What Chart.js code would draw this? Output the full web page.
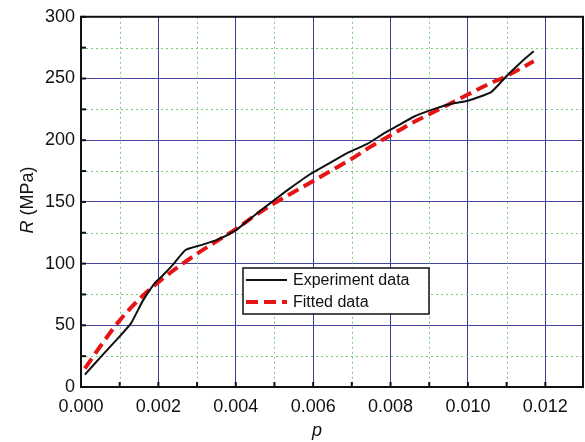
<!DOCTYPE html>
<html>
<head>
<meta charset="utf-8">
<script src="https://cdn.jsdelivr.net/npm/chart.js@4"></script>
<style>
  body { margin: 0; background: #fff; }
  canvas { display: block; }
</style>
</head>
<body>
<canvas id="chart" width="585" height="442"></canvas>
<script>
// strain p vs stress R (MPa)
const expP = [0.0001, 0.0005, 0.0010, 0.0013, 0.0016, 0.0019, 0.0021, 0.0024, 0.0027, 0.0031, 0.0035, 0.0040, 0.0042, 0.0046, 0.0051, 0.0054, 0.0059, 0.0064, 0.0069, 0.0074, 0.0078, 0.0082, 0.0086, 0.0090, 0.0095, 0.0100, 0.0106, 0.0110, 0.0114, 0.0117]
const expR = [10, 24, 41, 52, 70, 84, 90, 100, 111, 115, 119, 127, 132, 142, 154, 161, 172, 181, 190, 197, 205, 212, 219, 224, 229, 232, 239, 252, 264, 272]

const fitP = [0.0001, 0.0005, 0.0010, 0.0015, 0.0020, 0.0025, 0.0030, 0.0035, 0.0040, 0.0045, 0.0050, 0.0055, 0.0060, 0.0065, 0.0070, 0.0075, 0.0080, 0.0085, 0.0090, 0.0095, 0.0100, 0.0105, 0.0110, 0.0117]
const fitR = [15, 33, 54, 71, 85, 97, 108, 118, 128, 139, 149, 158, 167, 176, 185, 195, 204, 213, 221, 229, 237, 245, 252, 264]

const xTicks = [0, 0.002, 0.004, 0.006, 0.008, 0.010, 0.012]
const yTicks = [0, 50, 100, 150, 200, 250, 300]
const xMinor = [0.001, 0.003, 0.005, 0.007, 0.009, 0.011]
const yMinor = [25, 75, 125, 175, 225, 275]

const labelFont = { family: 'Liberation Sans, Arial, sans-serif', size: 18 }

const frame = {
  id: 'frame',
  beforeDatasetsDraw( chart ) {
    const { ctx, chartArea: a, scales: { x, y } } = chart
    ctx.save()
    ctx.strokeStyle = 'rgb(120, 205, 120)'
    ctx.lineWidth = 1
    ctx.setLineDash( [ 2, 3 ] )
    xMinor.forEach( v => {
      const px = Math.round( x.getPixelForValue( v ) ) + 0.5
      ctx.beginPath(); ctx.moveTo( px, a.top ); ctx.lineTo( px, a.bottom ); ctx.stroke()
    } )
    yMinor.forEach( v => {
      const py = Math.round( y.getPixelForValue( v ) ) + 0.5
      ctx.beginPath(); ctx.moveTo( a.left, py ); ctx.lineTo( a.right, py ); ctx.stroke()
    } )
    ctx.restore()
  },
  afterDraw( chart ) {
    const { ctx, chartArea: a, scales: { x, y } } = chart
    ctx.save()
    // inward tick marks
    ctx.strokeStyle = '#111'
    ctx.lineWidth = 2
    xTicks.concat( xMinor ).forEach( v => {
      const px = x.getPixelForValue( v )
      ctx.beginPath(); ctx.moveTo( px, a.bottom ); ctx.lineTo( px, a.bottom - 5 ); ctx.stroke()
    } )
    yTicks.concat( yMinor ).forEach( v => {
      const py = y.getPixelForValue( v )
      ctx.beginPath(); ctx.moveTo( a.left, py ); ctx.lineTo( a.left + 5, py ); ctx.stroke()
    } )
    // frame
    ctx.lineWidth = 2
    ctx.strokeRect( a.left, a.top, a.right - a.left - 1, a.bottom - a.top )

    // legend
    const bx = 243, by = 268, bw = 186, bh = 46
    ctx.fillStyle = '#fff'
    ctx.fillRect( bx, by, bw, bh )
    ctx.lineWidth = 1.5
    ctx.strokeStyle = '#111'
    ctx.strokeRect( bx, by, bw, bh )
    ctx.font = '16px Liberation Sans, Arial, sans-serif'
    ctx.textBaseline = 'middle'
    chart.data.datasets.forEach( ( ds, i ) => {
      const cy = by + 12 + i * 22
      ctx.strokeStyle = ds.borderColor
      ctx.lineWidth = ds.borderWidth
      ctx.setLineDash( ds.borderDash || [] )
      ctx.beginPath(); ctx.moveTo( bx + 3, cy ); ctx.lineTo( bx + 44, cy ); ctx.stroke()
      ctx.setLineDash( [] )
      ctx.fillStyle = '#111'
      ctx.fillText( ds.label, bx + 50, cy + 1 )
    } )

    // axis titles
    ctx.fillStyle = '#111'
    ctx.textBaseline = 'alphabetic'
    ctx.font = 'italic 18px Liberation Sans, Arial, sans-serif'
    ctx.textAlign = 'center'
    ctx.fillText( 'p', 317, 436 )

    ctx.translate( 33, 200 )
    ctx.rotate( -Math.PI / 2 )
    ctx.textAlign = 'left'
    const it = 'italic 18px Liberation Sans, Arial, sans-serif'
    const up = '18px Liberation Sans, Arial, sans-serif'
    ctx.font = it
    const w1 = ctx.measureText( 'R' ).width
    ctx.font = up
    const w2 = ctx.measureText( ' (MPa)' ).width
    const start = -( w1 + w2 ) / 2
    ctx.font = it
    ctx.fillText( 'R', start, 0 )
    ctx.font = up
    ctx.fillText( ' (MPa)', start + w1, 0 )
    ctx.restore()
  }
}

const data = {
  datasets: [ {
    label: 'Experiment data',
    data: expP.map( ( p, i ) => ( { x: p, y: expR[ i ] } ) ),
    borderColor: '#111',
    borderWidth: 2,
    pointRadius: 0,
    tension: 0.15,
    fill: false
  }, {
    label: 'Fitted data',
    data: fitP.map( ( p, i ) => ( { x: p, y: fitR[ i ] } ) ),
    borderColor: 'rgb(230, 20, 20)',
    borderWidth: 4,
    borderDash: [ 12, 6 ],
    pointRadius: 0,
    cubicInterpolationMode: 'monotone',
    fill: false
  } ]
}

const config = {
  type: 'line',
  data: data,
  options: {
    responsive: false,
    animation: false,
    devicePixelRatio: 1,
    layout: { padding: { top: 14, right: 1, left: 0, bottom: 0 } },
    plugins: { legend: { display: false }, tooltip: { enabled: false } },
    scales: {
      x: {
        type: 'linear',
        min: 0,
        max: 0.013,
        afterBuildTicks: scale => { scale.ticks = xTicks.map( v => ( { value: v } ) ) },
        afterFit: scale => { scale.height = 55 },
        ticks: {
          color: '#111',
          font: labelFont,
          padding: 9,
          maxRotation: 0,
          callback: v => v.toFixed( 3 )
        },
        grid: { color: 'rgb(60, 60, 150)', lineWidth: 1, drawTicks: false },
        border: { display: false }
      },
      y: {
        min: 0,
        max: 300,
        afterBuildTicks: scale => { scale.ticks = yTicks.map( v => ( { value: v } ) ) },
        afterFit: scale => { scale.width = 81 },
        ticks: { color: '#111', font: labelFont, padding: 6 },
        grid: { color: 'rgb(70, 70, 160)', lineWidth: 1, drawTicks: false },
        border: { display: false }
      }
    }
  },
  plugins: [ frame ]
}

const graph = new Chart( document.getElementById( 'chart' ), config )
</script>
</body>
</html>
